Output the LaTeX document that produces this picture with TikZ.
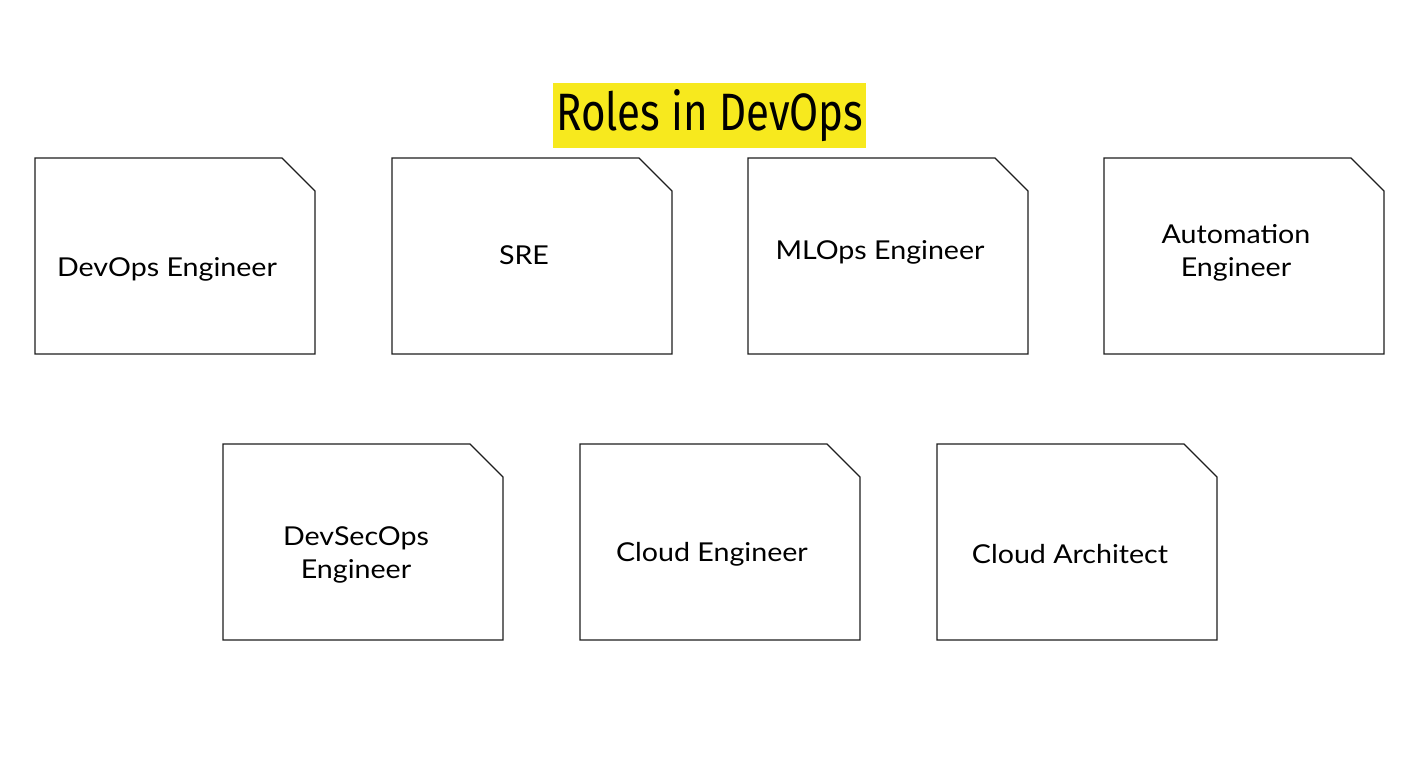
\documentclass[tikz,border=0pt]{standalone}
\usepackage{fontspec}
\setmainfont[FakeStretch=1.1]{Lato}
\newfontfamily\titlefont{Fira Sans}
\definecolor{titleyellow}{RGB}{247,233,30}
\definecolor{edge}{RGB}{30,30,30}
\begin{document}
\begin{tikzpicture}[x=1pt,y=-1pt,
  rolebox/.style={draw=edge,line width=1.3pt,line join=miter},
  rolelabel/.style={font=\fontsize{26}{33}\selectfont,align=center,inner sep=0pt,text=black}]
\useasboundingbox (0,0) rectangle (1409,770);
\fill[white] (0,0) rectangle (1409,770);
% title
\node[fill=titleyellow,minimum width=313pt,minimum height=65pt,inner sep=0pt,anchor=north west] (title) at (553,83) {};
\node[inner sep=0pt,anchor=base] (titletext) at (710,131) {\titlefont\resizebox{307pt}{41pt}{Roles in DevOps}};
% boxes
\foreach \name/\x/\y in {b1/35/158,b2/392/158,b3/748/158,b4/1104/158,b5/223/444,b6/580/444,b7/937/444}{
  \draw[rolebox] (\x,\y) -- ++(247,0) -- ++(33,33) -- ++(0,163) -- ++(-280,0) -- cycle;
  \coordinate (\name) at (\x,\y);
}
\node[rolelabel] (t1) at (167,269) {DevOps Engineer};
\node[rolelabel] (t2) at (524,255) {SRE};
\node[rolelabel] (t3) at (880,252) {MLOps Engineer};
\node[rolelabel] (t4) at (1236,252.5) {Automation\\Engineer};
\node[rolelabel] (t5) at (356,554.5) {DevSecOps\\Engineer};
\node[rolelabel] (t6) at (712,554) {Cloud Engineer};
\node[rolelabel] (t7) at (1070,554) {Cloud Architect};
\end{tikzpicture}
\end{document}
